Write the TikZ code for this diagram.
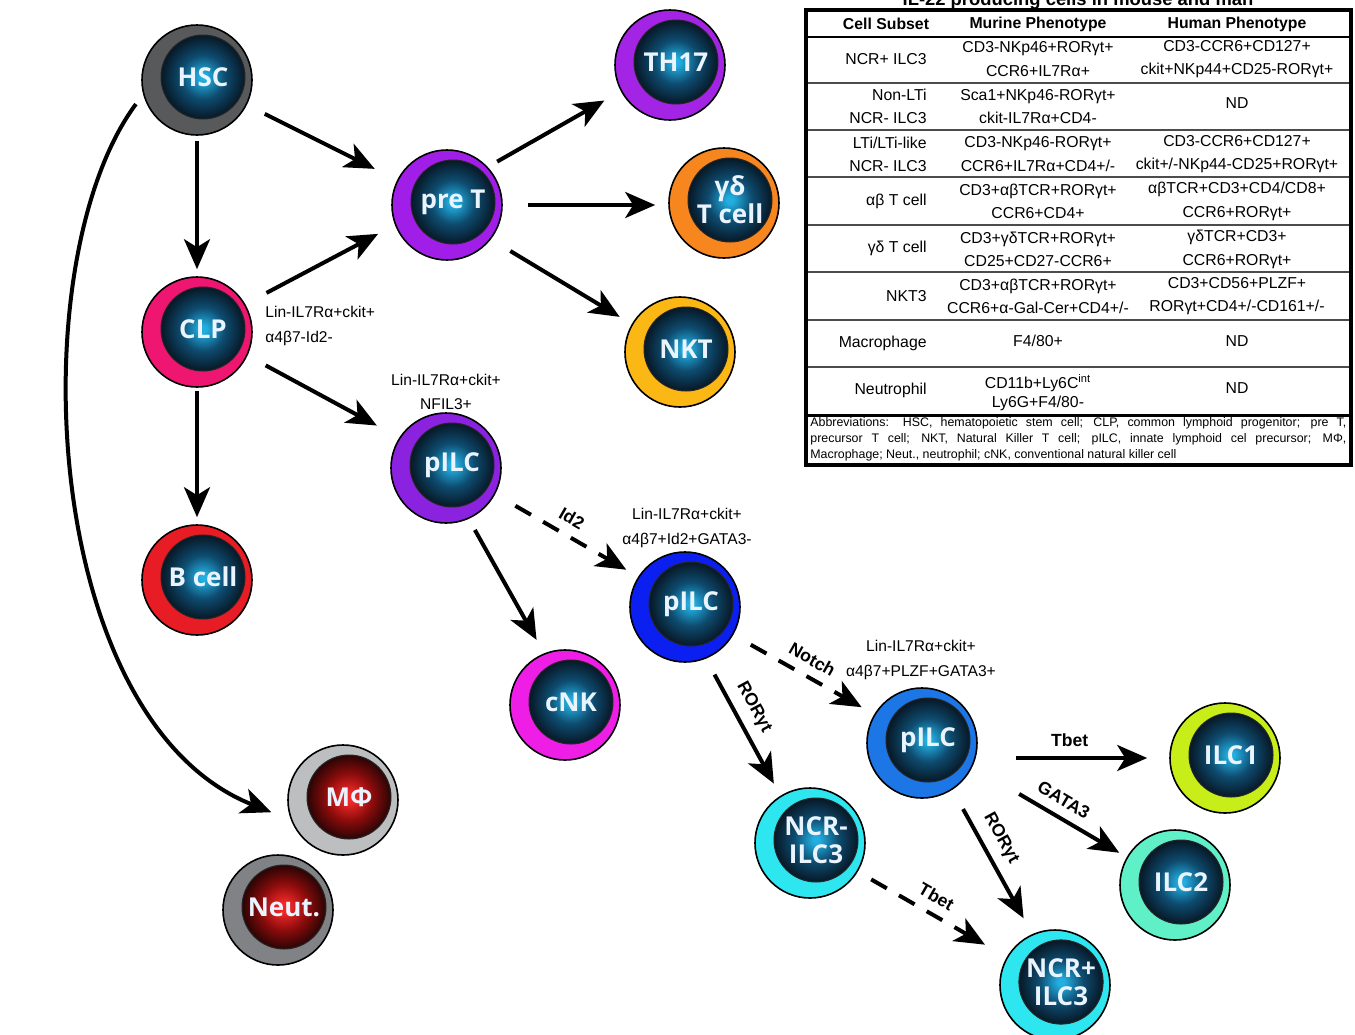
\documentclass[tikz,border=0pt]{standalone}
\usepackage{fontspec}
\setmainfont{Liberation Sans}
\newfontfamily\cellfont{Open Sans}
\usetikzlibrary{arrows.meta,calc}
\definecolor{glowA}{HTML}{22AEE0}
\definecolor{glowB}{HTML}{0E4C70}
\definecolor{glowC}{HTML}{071826}
\definecolor{redA}{HTML}{F02828}
\definecolor{redB}{HTML}{8C0C0C}
\definecolor{redC}{HTML}{2A0404}
\definecolor{cHSC}{HTML}{58595B}
\definecolor{cTH}{HTML}{A424E6}
\definecolor{cPreT}{HTML}{A01EE8}
\definecolor{cGD}{HTML}{F7861E}
\definecolor{cNKT}{HTML}{FBB714}
\definecolor{cCLP}{HTML}{EE1670}
\definecolor{cB}{HTML}{E81C24}
\definecolor{cPI}{HTML}{8B22E0}
\definecolor{cNK}{HTML}{EE1EE6}
\definecolor{cPII}{HTML}{0A1FF0}
\definecolor{cPIII}{HTML}{1C76E6}
\definecolor{cIa}{HTML}{C8EE1A}
\definecolor{cIb}{HTML}{60F0C8}
\definecolor{cNCR}{HTML}{2EE6F0}
\definecolor{cMP}{HTML}{BCBEC0}
\definecolor{cNeu}{HTML}{808285}
\definecolor{labwhite}{HTML}{EAF4FF}
\pgfdeclareradialshading{blueglow}{\pgfpointorigin}{color(0bp)=(glowA); color(2bp)=(glowA); color(13bp)=(glowB); color(25bp)=(glowC); color(50bp)=(glowC)}
\pgfdeclareradialshading{redglow}{\pgfpointorigin}{color(0bp)=(redA); color(3bp)=(redA); color(14bp)=(redB); color(25bp)=(redC); color(50bp)=(redC)}
\newcommand\cellnode[6]{%
  \node[ring, fill=#4] (#1) at (#2,#3) {};
  \node[core, shading=#5] (#1-in) at ([shift={(3pt,1.5pt)}]#1.center) {#6};
}
\begin{document}
\begin{tikzpicture}[x=0.5pt,y=-0.5pt,
  ring/.style={circle, draw=black, line width=0.8pt, minimum size=55pt, inner sep=0pt},
  core/.style={circle, draw=black!85, line width=0.5pt, minimum size=42pt, inner sep=0pt, shade,
    text=labwhite, align=center, font=\cellfont\bfseries\fontsize{13}{14}\selectfont},
  arr/.style={line width=2pt, -{Stealth[length=15pt,width=13pt,inset=4pt]}},
  dsh/.style={dash pattern=on 9pt off 7pt},
  lab/.style={font=\bfseries\fontsize{8.8}{10}\selectfont, sloped, above=3.5pt, inner sep=1pt},
  pheno/.style={font=\fontsize{7.8}{12.2}\selectfont, inner sep=0pt, align=center},
  ttext/.style={font=\fontsize{7.9}{11.6}\selectfont, inner sep=0pt, align=center},
  thead/.style={font=\bfseries\fontsize{7.9}{10}\selectfont, inner sep=0pt},
  tleft/.style={ttext, anchor=east, align=right}]
\useasboundingbox (0,0) rectangle (1355,1034);
\fill[white] (0,0) rectangle (1355,1034);

% ---- cells
\cellnode{hsc}{197}{80}{cHSC}{blueglow}{HSC}
\cellnode{th17}{670}{65}{cTH}{blueglow}{TH17}
\cellnode{pret}{447}{205}{cPreT}{blueglow}{pre T}
\cellnode{gd}{724}{203}{cGD}{blueglow}{γδ\\T cell}
\cellnode{nkt}{680}{352}{cNKT}{blueglow}{NKT}
\cellnode{clp}{197}{332}{cCLP}{blueglow}{CLP}
\cellnode{bcell}{197}{580}{cB}{blueglow}{B cell}
\cellnode{pilca}{446}{468}{cPI}{blueglow}{pILC}
\cellnode{cnk}{565}{705}{cNK}{blueglow}{cNK}
\cellnode{pilcb}{685}{607}{cPII}{blueglow}{pILC}
\cellnode{pilcc}{922}{743}{cPIII}{blueglow}{pILC}
\cellnode{ilca}{1225}{758}{cIa}{blueglow}{ILC1}
\cellnode{ilcb}{1175}{885}{cIb}{blueglow}{ILC2}
\cellnode{ncrm}{810}{843}{cNCR}{blueglow}{NCR-\\ILC3}
\cellnode{ncrp}{1055}{985}{cNCR}{blueglow}{NCR+\\ILC3}
\cellnode{mphi}{343}{800}{cMP}{redglow}{MΦ}
\cellnode{neut}{278}{910}{cNeu}{redglow}{Neut.}

% ---- arrows
\draw[arr, shorten <=10pt, shorten >=12.5pt] (hsc) -- (pret);
\draw[arr, shorten <=2.5pt, shorten >=3.5pt] (hsc.south) -- (clp.north);
\draw[arr, shorten <=12pt, shorten >=9.5pt] (clp.30.5) -- (pret.201.4);
\draw[arr, shorten <=10.3pt, shorten >=12.7pt] (clp.-25.9) -- (pilca.147.7);
\draw[arr, shorten <=1.5pt, shorten >=3.5pt] (clp.south) -- (bcell.north);
\draw[arr, shorten <=6pt, shorten >=10.5pt] (hsc.195) .. controls (20,260) and (40,720) .. (mphi.201);
\draw[arr, shorten <=5.4pt, shorten >=9.4pt] (pret.43.2) -- (th17.208.3);
\draw[arr, shorten <=12.5pt, shorten >=6.5pt] (pret.east) -- (gd.west |- pret.east);
\draw[arr, shorten <=11.3pt, shorten >=7pt] (pret.-38.2) -- (nkt.150.5);
\draw[arr, shorten <=6.3pt, shorten >=7.7pt] (pilca.-66.5) -- (cnk.112.6);
\draw[arr, dsh, shorten <=11.6pt, shorten >=6.9pt] (pilca.-28.2) -- node[lab, pos=0.475] (lid) {Id2} (pilcb.147.5);
\draw[arr, dsh, shorten <=10pt, shorten >=7.2pt] (pilcb.-30.3) -- node[lab, pos=0.5] (lnotch) {Notch} (pilcc.149.7);
\draw[arr, shorten <=9pt, shorten >=6.9pt] (pilcb.-68.3) -- node[lab, pos=0.42] (lrora) {RORγt} (ncrm.122.5);
\draw[arr, shorten <=19pt, shorten >=11pt] (pilcc.east |- ilca.west) -- node[lab, pos=0.48, above=0pt] (ltbeta) {Tbet} (ilca.west);
\draw[arr, shorten <=27pt, shorten >=4.3pt] (pilcc.-25.6) -- node[lab, pos=0.535] (lgata) {GATA3} (ilcb.150);
\draw[arr, shorten <=11pt, shorten >=9pt] (pilcc.-57.8) -- node[lab, pos=0.40] (lrorb) {RORγt} (ncrp.114);
\draw[arr, dsh, shorten <=7.7pt, shorten >=12.5pt] (ncrm.-31.7) -- node[lab, pos=0.47] (ltbetb) {Tbet} (ncrp.150.9);

% ---- phenotype annotations
\node[pheno, anchor=west, align=left] (phclp) at (265,326) {Lin-IL7Rα+ckit+\\α4β7-Id2-};
\node[pheno] (phpa) at (446,392) {Lin-IL7Rα+ckit+\\NFIL3+};
\node[pheno] (phpb) at (687,528) {Lin-IL7Rα+ckit+\\α4β7+Id2+GATA3-};
\node[pheno] (phpc) at (921,660) {Lin-IL7Rα+ckit+\\α4β7+PLZF+GATA3+};

% ---- table
\node[font=\bfseries\fontsize{9.2}{10}\selectfont, anchor=base, inner sep=0pt] (title) at (1078,5) {IL-22 producing cells in mouse and man};
\foreach \yy in {83,130,177,225,272,320,367} \draw[line width=0.8pt, black!70] (806,\yy) -- (1351,\yy);
\draw[line width=0.9pt] (806,37) -- (1351,37);
\draw[line width=1.5pt] (806,415) -- (1351,415);
\draw[line width=1.6pt] (806,10) rectangle (1351,465);

\node[thead] (h1) at (886,24) {Cell Subset};
\node[thead] (h2) at (1038,24) {Murine Phenotype};
\node[thead] (h3) at (1237,24) {Human Phenotype};

\node[tleft] (a1) at (927,59) {NCR+ ILC3};
\node[ttext] (b1) at (1038,59) {CD3-NKp46+RORγt+\\CCR6+IL7Rα+};
\node[ttext] (c1) at (1237,59) {CD3-CCR6+CD127+\\ckit+NKp44+CD25-RORγt+};

\node[tleft] (a2) at (927,106.5) {Non-LTi\\NCR- ILC3};
\node[ttext] (b2) at (1038,106.5) {Sca1+NKp46-RORγt+\\ckit-IL7Rα+CD4-};
\node[ttext] (c2) at (1237,103) {ND};

\node[tleft] (a3) at (927,154) {LTi/LTi-like\\NCR- ILC3};
\node[ttext] (b3) at (1038,154) {CD3-NKp46-RORγt+\\CCR6+IL7Rα+CD4+/-};
\node[ttext] (c3) at (1237,154) {CD3-CCR6+CD127+\\ckit+/-NKp44-CD25+RORγt+};

\node[tleft] (a4) at (927,201) {αβ T cell};
\node[ttext] (b4) at (1038,201.5) {CD3+αβTCR+RORγt+\\CCR6+CD4+};
\node[ttext] (c4) at (1237,201.5) {αβTCR+CD3+CD4/CD8+\\CCR6+RORγt+};

\node[tleft] (a5) at (927,248) {γδ T cell};
\node[ttext] (b5) at (1038,249.5) {CD3+γδTCR+RORγt+\\CD25+CD27-CCR6+};
\node[ttext] (c5) at (1237,249.5) {γδTCR+CD3+\\CCR6+RORγt+};

\node[tleft] (a6) at (927,296) {NKT3};
\node[ttext] (b6) at (1038,296.5) {CD3+αβTCR+RORγt+\\CCR6+α-Gal-Cer+CD4+/-};
\node[ttext] (c6) at (1237,296.5) {CD3+CD56+PLZF+\\RORγt+CD4+/-CD161+/-};

\node[tleft] (a7) at (927,343) {Macrophage};
\node[ttext] (b7) at (1038,341) {F4/80+};
\node[ttext] (c7) at (1237,341) {ND};

\node[tleft] (a8) at (927,390) {Neutrophil};
\node[ttext, font=\fontsize{7.9}{9.8}\selectfont] (b8) at (1038,393) {CD11b+Ly6C\textsuperscript{int}\\Ly6G+F4/80-};
\node[ttext] (c8) at (1237,388) {ND};

\node[anchor=north west, inner sep=0pt, text width=268pt, align=justify,
  font=\fontsize{6.2}{8}\selectfont] (abbr) at (810,417)
  {Abbreviations: HSC, hematopoietic stem cell; CLP, common lymphoid progenitor; pre T,\linebreak
   precursor T cell; NKT, Natural Killer T cell; pILC, innate lymphoid cel precursor; MΦ,\linebreak
   Macrophage; Neut., neutrophil; cNK, conventional natural killer cell};
\end{tikzpicture}
\end{document}
